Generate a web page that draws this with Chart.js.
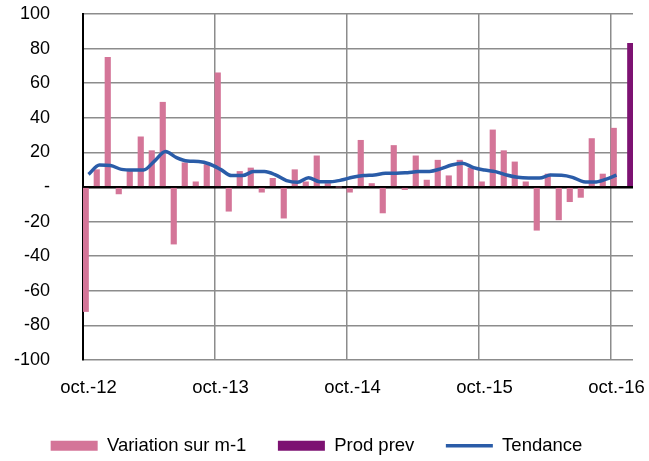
<!DOCTYPE html>
<html lang="fr">
<head>
<meta charset="utf-8">
<title>Variation sur m-1</title>
<script src="https://cdn.jsdelivr.net/npm/chart.js@4.4.1/dist/chart.umd.min.js"></script>
<style>
    html, body { margin: 0; padding: 0; background: #fff; }
    #varChart { display: block; }
</style>
</head>
<body>
<canvas id="varChart" width="649" height="461"></canvas>
<script>
// Months oct.-12 .. nov.-16 (only october is labelled on the axis)
const monthNames = ['oct.', 'nov.', 'déc.', 'janv.', 'févr.', 'mars', 'avr.', 'mai', 'juin', 'juil.', 'août', 'sept.'];
const months = [];
for (let i = 0; i < 50; i++) {
    const year = 12 + Math.floor((i + 9) / 12);
    months.push(monthNames[i % 12] + '-' + year);
}

// Variation sur m-1 (oct.-12 .. oct.-16)
const variation = [
    -72, 10, 75, -4, 9, 29, 21, 49, -33, 14, 3, 13,
    66, -14, 9, 11, -3, 5, -18, 10, 3, 18, 2, 0,
    -3, 27, 2, -15, 24, -1.5, 18, 4, 15.5, 6.5, 15.5, 11,
    3, 33, 21, 14.5, 3, -25, 7.5, -19, -8.5, -6, 28, 7.5,
    34, null
];

// Prod prev : only the last month
const prodPrev = new Array(49).fill(null).concat([83]);

// Tendance
const tendance = [
    7.3, 12.7, 12.4, 10.2, 9.8, 9.8, 15, 20.5, 17, 15, 14.7, 13.3,
    10.2, 6.6, 6.6, 8.9, 8.9, 7, 3.7, 2.7, 5.4, 3.1, 3.1, 4,
    5.6, 6.6, 7, 7.9, 7.9, 8.3, 8.9, 9, 10.5, 12.7, 13.7, 11.2,
    9.8, 8.9, 6.9, 5.6, 5.2, 5.2, 6.9, 6.8, 5.6, 3.1, 2.9, 4.4,
    6.8, null
];

const yTicks = [-100, -80, -60, -40, -20, 0, 20, 40, 60, 80, 100];

Chart.defaults.font.family = '"Liberation Sans", Arial, sans-serif';
Chart.defaults.color = '#000';

const ctx = document.getElementById('varChart').getContext('2d');

new Chart(ctx, {
    type: 'bar',
    data: {
        labels: months,
        datasets: [{
            label: 'Variation sur m-1',
            data: variation,
            backgroundColor: '#d47598',
            barPercentage: 1,
            categoryPercentage: 1,
            order: 1
        }, {
            label: 'Prod prev',
            data: prodPrev,
            backgroundColor: '#7d1272',
            barPercentage: 1,
            categoryPercentage: 1,
            order: 1
        }, {
            type: 'line',
            label: 'Tendance',
            data: tendance,
            borderColor: '#2a5ca8',
            borderWidth: 3.5,
            pointRadius: 0,
            cubicInterpolationMode: 'monotone',
            fill: false,
            order: 0
        }]
    },
    options: {
        responsive: false,
        animation: false,
        layout: {
            padding: { top: 14, right: 16, left: 0, bottom: 0 }
        },
        plugins: {
            tooltip: { enabled: false },
            legend: {
                position: 'bottom',
                maxHeight: 56,
                labels: {
                    usePointStyle: true,
                    pointStyleWidth: 47,
                    boxHeight: 10,
                    padding: 31.5,
                    color: '#000',
                    font: { size: 18.5 },
                    sort: (a, b) => a.datasetIndex - b.datasetIndex,
                    generateLabels: function(chart) {
                        const items = Chart.defaults.plugins.legend.labels.generateLabels(chart);
                        return items.map(item => {
                            const ds = chart.data.datasets[item.datasetIndex];
                            if (ds.type === 'line') {
                                item.pointStyle = 'line';
                                item.strokeStyle = ds.borderColor;
                                item.lineWidth = 3.5;
                            } else {
                                item.pointStyle = 'rect';
                                item.fillStyle = ds.backgroundColor;
                                item.lineWidth = 0;
                            }
                            return item;
                        });
                    }
                }
            }
        },
        scales: {
            x: {
                offset: true,
                grid: {
                    offset: true,
                    tickLength: 17,
                    tickColor: 'rgba(0,0,0,0)',
                    lineWidth: 1.5,
                    color: function(c) {
                        return c.index % 12 === 0 && c.index < months.length ? '#8c8c8c' : 'rgba(0,0,0,0)';
                    }
                },
                border: { display: false },
                ticks: {
                    autoSkip: false,
                    maxRotation: 0,
                    padding: 0,
                    font: { size: 18.5 },
                    callback: function(value, index) {
                        return months[index].startsWith('oct.') ? months[index] : '';
                    }
                },
                afterFit: function(scale) {
                    scale.height = 45;
                }
            },
            y: {
                min: yTicks[0],
                max: yTicks[yTicks.length - 1],
                afterBuildTicks: function(scale) {
                    scale.ticks = yTicks.map(v => ({ value: v }));
                },
                grid: {
                    tickLength: 33,
                    tickColor: 'rgba(0,0,0,0)',
                    color: c => (c.tick && c.tick.value === 0 ? '#000' : '#8c8c8c'),
                    lineWidth: c => (c.tick && c.tick.value === 0 ? 2.5 : 1.5)
                },
                border: { color: '#000', width: 2 },
                ticks: {
                    padding: 0,
                    font: { size: 18 },
                    callback: v => (v === 0 ? '-' : v)
                },
                afterFit: function(scale) {
                    scale.width = 83;
                }
            }
        }
    }
});
</script>
</body>
</html>
